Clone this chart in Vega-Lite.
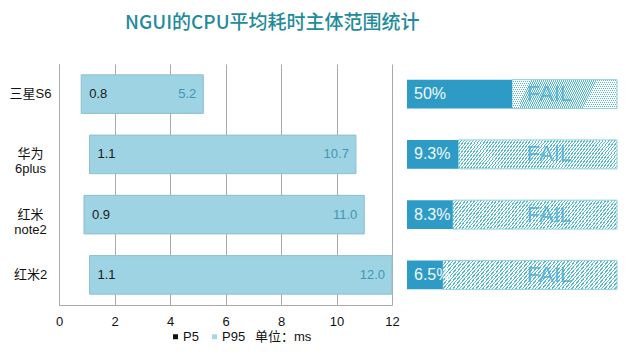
{
  "$schema": "https://vega.github.io/schema/vega-lite/v6.json",
  "background": "white",
  "padding": {"left": 9, "top": 14, "right": 5, "bottom": 5},
  "title": {"text": "NGUI的CPU平均耗时主体范围统计", "anchor": "start", "frame": "group", "dx": 66, "fontSize": 19, "font": "Noto Sans CJK SC", "fontWeight": 500, "color": "#1f8b9b", "offset": 31},
  "spacing": 15,
  "bounds": "flush",
  "config": {"view": {"stroke": null}, "font": "Liberation Sans, Noto Sans CJK SC"},
  "hconcat": [
    {
      "width": 333,
      "height": 241,
      "data": {"values": [
        {"device": "三星S6", "p5": 0.8, "p95": 5.2},
        {"device": "华为 6plus", "p5": 1.1, "p95": 10.7},
        {"device": "红米 note2", "p5": 0.9, "p95": 11.0},
        {"device": "红米2", "p5": 1.1, "p95": 12.0}
      ]},
      "encoding": {
        "y": {"field": "device", "type": "nominal", "sort": ["三星S6", "华为 6plus", "红米 note2", "红米2"],
          "scale": {"paddingInner": 0.36, "paddingOuter": 0.18},
          "axis": {"title": null, "ticks": false, "domain": true, "domainColor": "#aaaaaa", "labelAlign": "center", "labelPadding": 29, "labelExpr": "split(datum.label, ' ')", "labelFontSize": 13, "labelLineHeight": 15, "labelColor": "#111111", "minExtent": 50, "maxExtent": 50}}
      },
      "layer": [
        {"mark": {"type": "bar", "color": "#9dd3e3", "stroke": "#8dbfcd", "strokeWidth": 1},
          "encoding": {
            "x": {"field": "p5", "type": "quantitative", "scale": {"domain": [0, 12]},
              "axis": {"title": null, "values": [0, 2, 4, 6, 8, 10, 12], "grid": true, "gridColor": "#aaaaaa", "ticks": false, "domainColor": "#aaaaaa", "labelFontSize": 13, "labelColor": "#111111", "labelPadding": 10, "labelFlush": false}},
            "x2": {"field": "p95"}
          }},
        {"mark": {"type": "bar", "strokeWidth": 0},
          "encoding": {
            "x": {"field": "p5", "type": "quantitative"},
            "x2": {"field": "p5"},
            "fill": {"datum": "P5", "type": "nominal", "scale": {"domain": ["P5", "P95"], "range": ["#111111", "#a9d9d8"]},
              "legend": {"title": "单位：ms", "titleOrient": "right", "orient": "none", "legendX": 110, "legendY": 266, "direction": "horizontal", "symbolType": "square", "symbolSize": 25, "labelFontSize": 13, "titleFontSize": 13, "titleFontWeight": "normal", "titleColor": "#111111", "labelColor": "#111111", "columnPadding": 9, "labelOffset": 1, "titlePadding": 10, "symbolStrokeWidth": 0}}
          }},
        {"mark": {"type": "bar", "strokeWidth": 0},
          "encoding": {
            "x": {"field": "p95", "type": "quantitative"},
            "x2": {"field": "p95"},
            "fill": {"datum": "P95", "type": "nominal"}
          }},
        {"mark": {"type": "text", "align": "left", "dx": 8, "fontSize": 13, "color": "#1a1a1a"},
          "encoding": {
            "x": {"field": "p5", "type": "quantitative"},
            "text": {"field": "p5", "format": ".1f"}
          }},
        {"mark": {"type": "text", "align": "right", "dx": -7, "fontSize": 13, "color": "#3d98b3"},
          "encoding": {
            "x": {"field": "p95", "type": "quantitative"},
            "text": {"field": "p95", "format": ".1f"}
          }}
      ]
    },
    {
      "width": 210,
      "height": 241,
      "data": {"values": [
        {"device": "三星S6", "pct": 0.5},
        {"device": "华为 6plus", "pct": 0.093},
        {"device": "红米 note2", "pct": 0.083},
        {"device": "红米2", "pct": 0.065}
      ]},
      "encoding": {
        "y": {"field": "device", "type": "nominal", "sort": ["三星S6", "华为 6plus", "红米 note2", "红米2"],
          "scale": {"paddingInner": 0.52, "paddingOuter": 0.26}, "axis": null}
      },
      "layer": [
        {"mark": {"type": "bar", "stroke": "#8fcfdb", "strokeWidth": 1,
          "fill": {"gradient": "linear", "x1": 0, "y1": 0, "x2": 1.1165, "y2": 0.1537, "stops": [
{"offset":0,"color":"#5bc"},{"offset":0.0067,"color":"#5bc"},{"offset":0.0067,"color":"#fff"},{"offset":0.0167,"color":"#fff"},
{"offset":0.0167,"color":"#5bc"},{"offset":0.0233,"color":"#5bc"},{"offset":0.0233,"color":"#fff"},{"offset":0.0333,"color":"#fff"},
{"offset":0.0333,"color":"#5bc"},{"offset":0.04,"color":"#5bc"},{"offset":0.04,"color":"#fff"},{"offset":0.05,"color":"#fff"},
{"offset":0.05,"color":"#5bc"},{"offset":0.0567,"color":"#5bc"},{"offset":0.0567,"color":"#fff"},{"offset":0.0667,"color":"#fff"},
{"offset":0.0667,"color":"#5bc"},{"offset":0.0733,"color":"#5bc"},{"offset":0.0733,"color":"#fff"},{"offset":0.0833,"color":"#fff"},
{"offset":0.0833,"color":"#5bc"},{"offset":0.09,"color":"#5bc"},{"offset":0.09,"color":"#fff"},{"offset":0.1,"color":"#fff"},
{"offset":0.1,"color":"#5bc"},{"offset":0.1067,"color":"#5bc"},{"offset":0.1067,"color":"#fff"},{"offset":0.1167,"color":"#fff"},
{"offset":0.1167,"color":"#5bc"},{"offset":0.1233,"color":"#5bc"},{"offset":0.1233,"color":"#fff"},{"offset":0.1333,"color":"#fff"},
{"offset":0.1333,"color":"#5bc"},{"offset":0.14,"color":"#5bc"},{"offset":0.14,"color":"#fff"},{"offset":0.15,"color":"#fff"},
{"offset":0.15,"color":"#5bc"},{"offset":0.1567,"color":"#5bc"},{"offset":0.1567,"color":"#fff"},{"offset":0.1667,"color":"#fff"},
{"offset":0.1667,"color":"#5bc"},{"offset":0.1733,"color":"#5bc"},{"offset":0.1733,"color":"#fff"},{"offset":0.1833,"color":"#fff"},
{"offset":0.1833,"color":"#5bc"},{"offset":0.19,"color":"#5bc"},{"offset":0.19,"color":"#fff"},{"offset":0.2,"color":"#fff"},
{"offset":0.2,"color":"#5bc"},{"offset":0.2067,"color":"#5bc"},{"offset":0.2067,"color":"#fff"},{"offset":0.2167,"color":"#fff"},
{"offset":0.2167,"color":"#5bc"},{"offset":0.2233,"color":"#5bc"},{"offset":0.2233,"color":"#fff"},{"offset":0.2333,"color":"#fff"},
{"offset":0.2333,"color":"#5bc"},{"offset":0.24,"color":"#5bc"},{"offset":0.24,"color":"#fff"},{"offset":0.25,"color":"#fff"},
{"offset":0.25,"color":"#5bc"},{"offset":0.2567,"color":"#5bc"},{"offset":0.2567,"color":"#fff"},{"offset":0.2667,"color":"#fff"},
{"offset":0.2667,"color":"#5bc"},{"offset":0.2733,"color":"#5bc"},{"offset":0.2733,"color":"#fff"},{"offset":0.2833,"color":"#fff"},
{"offset":0.2833,"color":"#5bc"},{"offset":0.29,"color":"#5bc"},{"offset":0.29,"color":"#fff"},{"offset":0.3,"color":"#fff"},
{"offset":0.3,"color":"#5bc"},{"offset":0.3067,"color":"#5bc"},{"offset":0.3067,"color":"#fff"},{"offset":0.3167,"color":"#fff"},
{"offset":0.3167,"color":"#5bc"},{"offset":0.3233,"color":"#5bc"},{"offset":0.3233,"color":"#fff"},{"offset":0.3333,"color":"#fff"},
{"offset":0.3333,"color":"#5bc"},{"offset":0.34,"color":"#5bc"},{"offset":0.34,"color":"#fff"},{"offset":0.35,"color":"#fff"},
{"offset":0.35,"color":"#5bc"},{"offset":0.3567,"color":"#5bc"},{"offset":0.3567,"color":"#fff"},{"offset":0.3667,"color":"#fff"},
{"offset":0.3667,"color":"#5bc"},{"offset":0.3733,"color":"#5bc"},{"offset":0.3733,"color":"#fff"},{"offset":0.3833,"color":"#fff"},
{"offset":0.3833,"color":"#5bc"},{"offset":0.39,"color":"#5bc"},{"offset":0.39,"color":"#fff"},{"offset":0.4,"color":"#fff"},
{"offset":0.4,"color":"#5bc"},{"offset":0.4067,"color":"#5bc"},{"offset":0.4067,"color":"#fff"},{"offset":0.4167,"color":"#fff"},
{"offset":0.4167,"color":"#5bc"},{"offset":0.4233,"color":"#5bc"},{"offset":0.4233,"color":"#fff"},{"offset":0.4333,"color":"#fff"},
{"offset":0.4333,"color":"#5bc"},{"offset":0.44,"color":"#5bc"},{"offset":0.44,"color":"#fff"},{"offset":0.45,"color":"#fff"},
{"offset":0.45,"color":"#5bc"},{"offset":0.4567,"color":"#5bc"},{"offset":0.4567,"color":"#fff"},{"offset":0.4667,"color":"#fff"},
{"offset":0.4667,"color":"#5bc"},{"offset":0.4733,"color":"#5bc"},{"offset":0.4733,"color":"#fff"},{"offset":0.4833,"color":"#fff"},
{"offset":0.4833,"color":"#5bc"},{"offset":0.49,"color":"#5bc"},{"offset":0.49,"color":"#fff"},{"offset":0.5,"color":"#fff"},
{"offset":0.5,"color":"#5bc"},{"offset":0.5067,"color":"#5bc"},{"offset":0.5067,"color":"#fff"},{"offset":0.5167,"color":"#fff"},
{"offset":0.5167,"color":"#5bc"},{"offset":0.5233,"color":"#5bc"},{"offset":0.5233,"color":"#fff"},{"offset":0.5333,"color":"#fff"},
{"offset":0.5333,"color":"#5bc"},{"offset":0.54,"color":"#5bc"},{"offset":0.54,"color":"#fff"},{"offset":0.55,"color":"#fff"},
{"offset":0.55,"color":"#5bc"},{"offset":0.5567,"color":"#5bc"},{"offset":0.5567,"color":"#fff"},{"offset":0.5667,"color":"#fff"},
{"offset":0.5667,"color":"#5bc"},{"offset":0.5733,"color":"#5bc"},{"offset":0.5733,"color":"#fff"},{"offset":0.5833,"color":"#fff"},
{"offset":0.5833,"color":"#5bc"},{"offset":0.59,"color":"#5bc"},{"offset":0.59,"color":"#fff"},{"offset":0.6,"color":"#fff"},
{"offset":0.6,"color":"#5bc"},{"offset":0.6067,"color":"#5bc"},{"offset":0.6067,"color":"#fff"},{"offset":0.6167,"color":"#fff"},
{"offset":0.6167,"color":"#5bc"},{"offset":0.6233,"color":"#5bc"},{"offset":0.6233,"color":"#fff"},{"offset":0.6333,"color":"#fff"},
{"offset":0.6333,"color":"#5bc"},{"offset":0.64,"color":"#5bc"},{"offset":0.64,"color":"#fff"},{"offset":0.65,"color":"#fff"},
{"offset":0.65,"color":"#5bc"},{"offset":0.6567,"color":"#5bc"},{"offset":0.6567,"color":"#fff"},{"offset":0.6667,"color":"#fff"},
{"offset":0.6667,"color":"#5bc"},{"offset":0.6733,"color":"#5bc"},{"offset":0.6733,"color":"#fff"},{"offset":0.6833,"color":"#fff"},
{"offset":0.6833,"color":"#5bc"},{"offset":0.69,"color":"#5bc"},{"offset":0.69,"color":"#fff"},{"offset":0.7,"color":"#fff"},
{"offset":0.7,"color":"#5bc"},{"offset":0.7067,"color":"#5bc"},{"offset":0.7067,"color":"#fff"},{"offset":0.7167,"color":"#fff"},
{"offset":0.7167,"color":"#5bc"},{"offset":0.7233,"color":"#5bc"},{"offset":0.7233,"color":"#fff"},{"offset":0.7333,"color":"#fff"},
{"offset":0.7333,"color":"#5bc"},{"offset":0.74,"color":"#5bc"},{"offset":0.74,"color":"#fff"},{"offset":0.75,"color":"#fff"},
{"offset":0.75,"color":"#5bc"},{"offset":0.7567,"color":"#5bc"},{"offset":0.7567,"color":"#fff"},{"offset":0.7667,"color":"#fff"},
{"offset":0.7667,"color":"#5bc"},{"offset":0.7733,"color":"#5bc"},{"offset":0.7733,"color":"#fff"},{"offset":0.7833,"color":"#fff"},
{"offset":0.7833,"color":"#5bc"},{"offset":0.79,"color":"#5bc"},{"offset":0.79,"color":"#fff"},{"offset":0.8,"color":"#fff"},
{"offset":0.8,"color":"#5bc"},{"offset":0.8067,"color":"#5bc"},{"offset":0.8067,"color":"#fff"},{"offset":0.8167,"color":"#fff"},
{"offset":0.8167,"color":"#5bc"},{"offset":0.8233,"color":"#5bc"},{"offset":0.8233,"color":"#fff"},{"offset":0.8333,"color":"#fff"},
{"offset":0.8333,"color":"#5bc"},{"offset":0.84,"color":"#5bc"},{"offset":0.84,"color":"#fff"},{"offset":0.85,"color":"#fff"},
{"offset":0.85,"color":"#5bc"},{"offset":0.8567,"color":"#5bc"},{"offset":0.8567,"color":"#fff"},{"offset":0.8667,"color":"#fff"},
{"offset":0.8667,"color":"#5bc"},{"offset":0.8733,"color":"#5bc"},{"offset":0.8733,"color":"#fff"},{"offset":0.8833,"color":"#fff"},
{"offset":0.8833,"color":"#5bc"},{"offset":0.89,"color":"#5bc"},{"offset":0.89,"color":"#fff"},{"offset":0.9,"color":"#fff"},
{"offset":0.9,"color":"#5bc"},{"offset":0.9067,"color":"#5bc"},{"offset":0.9067,"color":"#fff"},{"offset":0.9167,"color":"#fff"},
{"offset":0.9167,"color":"#5bc"},{"offset":0.9233,"color":"#5bc"},{"offset":0.9233,"color":"#fff"},{"offset":0.9333,"color":"#fff"},
{"offset":0.9333,"color":"#5bc"},{"offset":0.94,"color":"#5bc"},{"offset":0.94,"color":"#fff"},{"offset":0.95,"color":"#fff"},
{"offset":0.95,"color":"#5bc"},{"offset":0.9567,"color":"#5bc"},{"offset":0.9567,"color":"#fff"},{"offset":0.9667,"color":"#fff"},
{"offset":0.9667,"color":"#5bc"},{"offset":0.9733,"color":"#5bc"},{"offset":0.9733,"color":"#fff"},{"offset":0.9833,"color":"#fff"},
{"offset":0.9833,"color":"#5bc"},{"offset":0.99,"color":"#5bc"},{"offset":0.99,"color":"#fff"},{"offset":1,"color":"#fff"}
          ]}},
          "encoding": {
            "x": {"field": "pct", "type": "quantitative", "scale": {"domain": [0, 0.1, 0.5, 1], "range": [0, 55, 105, 210], "nice": false, "zero": false}, "axis": null},
            "x2": {"datum": 1}
          }},
        {"mark": {"type": "bar", "color": "#2e9bc7"},
          "encoding": {
            "x": {"field": "pct", "type": "quantitative"},
            "x2": {"datum": 0}
          }},
        {"mark": {"type": "text", "align": "left", "dx": 7, "fontSize": 16, "color": "#f0f9fc"},
          "encoding": {
            "x": {"datum": 0, "type": "quantitative"},
            "text": {"field": "pct", "type": "quantitative", "format": ".1~%"}
          }},
        {"mark": {"type": "text", "align": "right", "dx": -45, "fontSize": 22, "color": "#4aa9d6", "opacity": 0.8},
          "encoding": {
            "x": {"datum": 1, "type": "quantitative"},
            "text": {"value": "FAIL"}
          }}
      ]
    }
  ]
}
